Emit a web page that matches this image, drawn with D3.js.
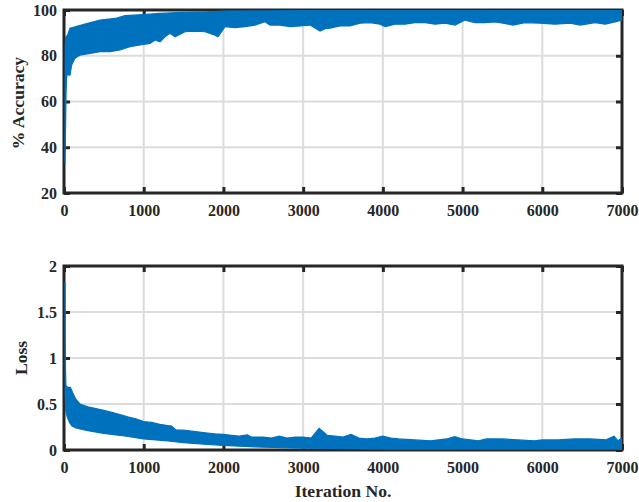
<!DOCTYPE html>
<html>
<head>
<meta charset="utf-8">
<script src="https://cdn.jsdelivr.net/npm/d3@7"></script>
<style>
  html, body { margin: 0; padding: 0; background: #fff; }
  svg { display: block; }
  text { font-family: "Liberation Serif", "Times New Roman", serif; font-weight: bold; fill: #262626; }
</style>
</head>
<body>
<svg id="chart" width="639" height="502"></svg>
<script>
// ---------- data (envelopes) ----------
const xTicks = [0, 1000, 2000, 3000, 4000, 5000, 6000, 7000];
const accTicks = [20, 40, 60, 80, 100];
const lossTicks = [0, 0.5, 1, 1.5, 2];
const lossTickLabels = ["0", "0.5", "1", "1.5", "2"];

// Accuracy: upper edge of the noisy trace
const accUpperIter = [12, 16, 20, 30, 45, 75, 138, 263, 452, 640, 765, 991, 1204, 1500, 1800, 2000, 2500, 3000, 4000, 5000, 6000, 7000];
const accUpperVal  = [33, 84, 87.8, 88.5, 89, 92, 92.6, 93.9, 95.6, 96.3, 97.5, 98, 98.5, 99, 99.2, 99.5, 99.6, 99.7, 99.8, 99.8, 99.8, 99.8];

// Accuracy: lower edge of the noisy trace
const accLowerIter = [12, 20, 26, 32, 40, 54, 75, 96, 138, 200, 326, 452, 577, 703, 828, 954, 1079, 1142, 1204, 1267, 1330, 1393, 1518, 1644, 1769, 1895, 1932, 2020, 2145, 2271, 2396, 2522, 2585, 2710, 2836, 2961, 3087, 3212, 3275, 3338, 3463, 3588, 3714, 3839, 3965, 4028, 4153, 4278, 4404, 4529, 4655, 4780, 4906, 5031, 5157, 5282, 5408, 5470, 5634, 5785, 5973, 6161, 6349, 6474, 6662, 6788, 6913, 7000];
const accLowerVal  = [33, 50, 64, 70, 72.5, 71.6, 71.5, 76, 78.9, 80.3, 81, 81.8, 81.8, 82.5, 84, 84.7, 85.4, 86.9, 86.1, 88.3, 89.8, 88.3, 90.5, 90.8, 90.5, 89, 88.3, 92.7, 92.3, 92.7, 93.4, 94.9, 93.4, 93.4, 92.7, 93, 93.4, 90.8, 91.8, 92.1, 93, 93, 94.2, 94.5, 93.8, 92.7, 93.8, 93.8, 94.5, 94.5, 93.8, 94.2, 93.4, 95.6, 94.5, 94.5, 94.8, 94.5, 93.4, 94.5, 94.2, 93.8, 94.2, 93.4, 94.5, 93.8, 94.8, 95.6];

// Loss: upper edge of the noisy trace
const lossUpperIter = [12, 15, 19, 24, 50, 80, 110, 150, 200, 300, 400, 500, 600, 700, 800, 900, 1000, 1100, 1200, 1300, 1350, 1400, 1500, 1600, 1700, 1800, 1900, 2000, 2100, 2200, 2300, 2350, 2500, 2600, 2700, 2800, 2900, 3000, 3100, 3200, 3250, 3300, 3400, 3500, 3600, 3700, 3800, 3900, 4000, 4100, 4200, 4400, 4600, 4800, 4900, 5000, 5200, 5300, 5500, 5700, 5900, 6000, 6200, 6400, 6600, 6800, 6900, 6950, 7000];
const lossUpperVal  = [1.83, 1.2, 0.87, 0.7, 0.68, 0.68, 0.62, 0.55, 0.5, 0.47, 0.45, 0.43, 0.41, 0.385, 0.36, 0.34, 0.31, 0.3, 0.28, 0.265, 0.26, 0.22, 0.215, 0.205, 0.195, 0.185, 0.175, 0.17, 0.16, 0.15, 0.165, 0.14, 0.14, 0.13, 0.15, 0.13, 0.14, 0.14, 0.13, 0.235, 0.2, 0.16, 0.15, 0.14, 0.17, 0.13, 0.12, 0.13, 0.15, 0.13, 0.12, 0.11, 0.1, 0.12, 0.145, 0.12, 0.1, 0.12, 0.12, 0.11, 0.1, 0.11, 0.11, 0.12, 0.12, 0.11, 0.15, 0.1, 0.13];

// Loss: lower edge of the noisy trace
const lossLowerIter = [12, 16, 22, 40, 70, 100, 150, 200, 300, 500, 700, 1000, 1300, 1500, 1800, 2000, 2500, 3000, 4000, 5000, 7000];
const lossLowerVal  = [1.83, 0.6, 0.43, 0.36, 0.3, 0.26, 0.24, 0.23, 0.21, 0.18, 0.16, 0.12, 0.1, 0.08, 0.06, 0.05, 0.03, 0.02, 0.01, 0.01, 0.01];

// ---------- drawing ----------
const svg = d3.select("#chart");
const lineColor = "#0072BD";
const axisColor = "#262626";
const gridColor = "#dcdcdc";
const fontFam = '"Liberation Serif", "Times New Roman", serif';
const L = 64, R = 622;

const x = d3.scaleLinear().domain([0, 7000]).range([L, R]);

function bandData(ui, uv, li, lv) {
  const up = ui.map((it, i) => ({ it, v: uv[i] }));
  const lo = li.map((it, i) => ({ it, v: lv[i] }));
  return { up, lo };
}

function panel(cfg) {
  const y = d3.scaleLinear().domain(cfg.domain).range([cfg.bottom, cfg.top]);
  const g = svg.append("g");
  const clipId = "clip" + cfg.id;
  svg.append("clipPath").attr("id", clipId)
    .append("rect").attr("x", L).attr("y", cfg.top).attr("width", R - L).attr("height", cfg.bottom - cfg.top);

  // grid
  const grid = g.append("g");
  grid.selectAll("line.gx").data(xTicks.slice(1, -1)).join("line")
    .attr("x1", d => x(d)).attr("x2", d => x(d))
    .attr("y1", cfg.top).attr("y2", cfg.bottom)
    .attr("stroke", gridColor).attr("stroke-width", 2);
  grid.selectAll("line.gy").data(cfg.ticks.slice(1, -1)).join("line")
    .attr("y1", d => y(d)).attr("y2", d => y(d))
    .attr("x1", L).attr("x2", R)
    .attr("stroke", gridColor).attr("stroke-width", 2);

  // axes with inward ticks
  const ax = g.append("g").attr("transform", `translate(0,${cfg.bottom})`)
    .call(d3.axisBottom(x).tickValues(xTicks).tickFormat(d3.format("d")).tickSize(-6).tickPadding(12));
  const axTop = g.append("g").attr("transform", `translate(0,${cfg.top})`)
    .call(d3.axisTop(x).tickValues(xTicks).tickFormat("").tickSize(-6));
  const ay = g.append("g").attr("transform", `translate(${L},0)`)
    .call(d3.axisLeft(y).tickValues(cfg.ticks).tickFormat((d, i) => cfg.labels[i]).tickSize(-6).tickPadding(7));
  const ayR = g.append("g").attr("transform", `translate(${R},0)`)
    .call(d3.axisRight(y).tickValues(cfg.ticks).tickFormat("").tickSize(-6));
  [ax, axTop, ay, ayR].forEach(a => {
    a.attr("font-family", fontFam).attr("font-size", 16);
    a.select(".domain").remove();
    a.selectAll(".tick line").attr("stroke", axisColor).attr("stroke-width", 3);
    a.selectAll(".tick text").attr("fill", axisColor)
      .attr("font-family", fontFam).attr("font-weight", "bold");
  });

  // box
  g.append("rect").attr("x", L).attr("y", cfg.top).attr("width", R - L).attr("height", cfg.bottom - cfg.top)
    .attr("fill", "none").attr("stroke", axisColor).attr("stroke-width", 3);

  // data band (noisy trace envelope), drawn over the box edge like the reference
  const { up, lo } = cfg.band;
  const pts = up.map(d => [x(d.it), y(d.v)]).concat(lo.slice().reverse().map(d => [x(d.it), y(d.v)]));
  g.append("path")
    .attr("clip-path", `url(#${clipId})`)
    .attr("d", d3.line().curve(d3.curveLinearClosed)(pts))
    .attr("fill", lineColor)
    .attr("stroke", lineColor)
    .attr("stroke-width", 1.2)
    .attr("stroke-linejoin", "miter");

  // y label
  g.append("text")
    .attr("transform", `translate(${cfg.ylabelX},${cfg.ylabelY}) rotate(-90)`)
    .attr("text-anchor", "middle")
    .attr("font-size", 17.6)
    .text(cfg.ylabel);
  return y;
}

panel({
  id: "acc", top: 10, bottom: 193, domain: [20, 100], ticks: accTicks,
  labels: accTicks.map(String),
  band: bandData(accUpperIter, accUpperVal, accLowerIter, accLowerVal),
  ylabel: "% Accuracy", ylabelX: 24, ylabelY: 103
});

panel({
  id: "loss", top: 266, bottom: 450, domain: [0, 2], ticks: lossTicks,
  labels: lossTickLabels,
  band: bandData(lossUpperIter, lossUpperVal, lossLowerIter, lossLowerVal),
  ylabel: "Loss", ylabelX: 27, ylabelY: 358
});

svg.append("text")
  .attr("x", (L + R) / 2).attr("y", 497)
  .attr("text-anchor", "middle")
  .attr("font-size", 17.6)
  .text("Iteration No.");
</script>
</body>
</html>
